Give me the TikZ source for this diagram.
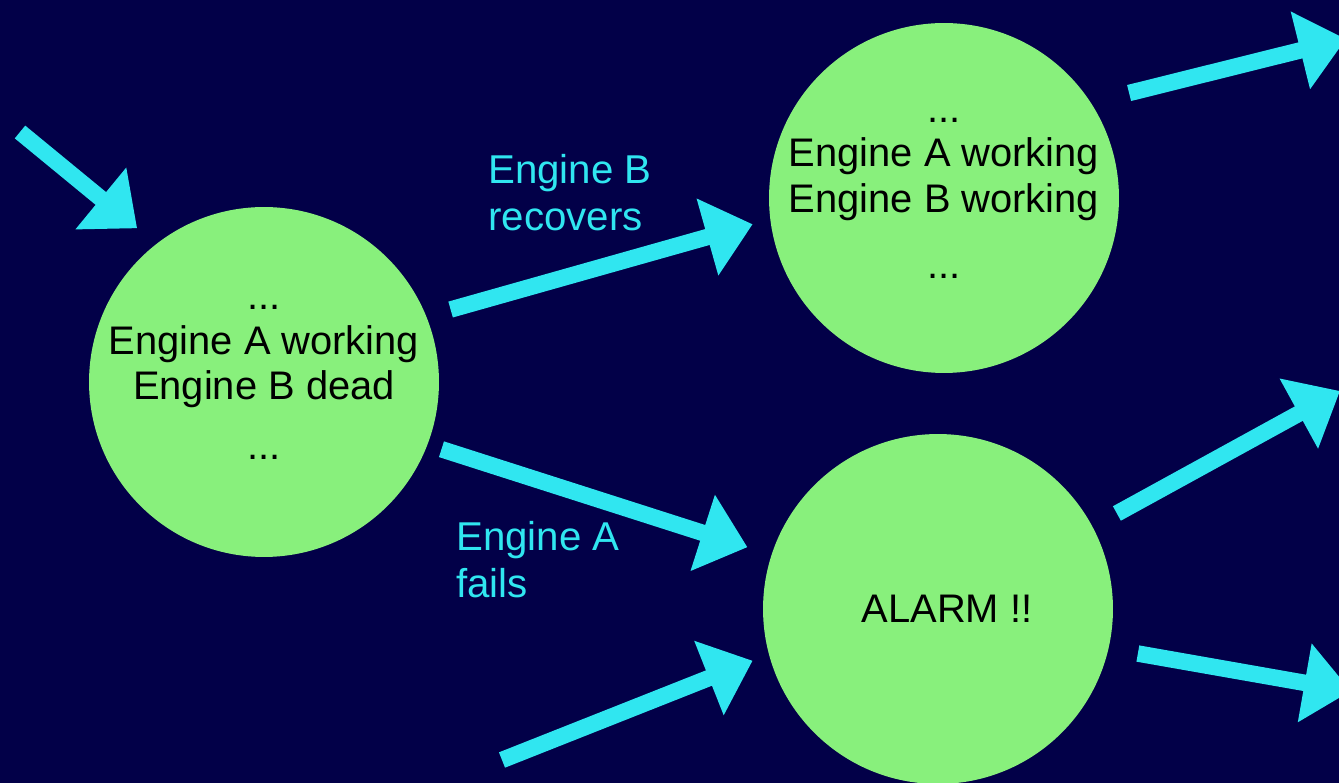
\documentclass[tikz,border=0pt]{standalone}
\usepackage{fontspec}
\setmainfont{Liberation Sans}
\usetikzlibrary{arrows.meta, positioning}

\definecolor{navy}{RGB}{2,0,72}
\definecolor{stategreen}{RGB}{136,240,124}
\definecolor{flowcyan}{RGB}{48,230,240}

\begin{document}
\begin{tikzpicture}[
    x=0.02cm, y=-0.02cm,
    state/.style={circle, fill=stategreen, minimum size=7cm, inner sep=0pt, align=center, text=black, font=\fontsize{22.7}{26}\selectfont},
    arrow/.style={flowcyan, line width=0.33cm, -{Triangle[width=1.54cm, length=0.94cm]}},
    tag/.style={text=flowcyan, align=left, inner sep=0pt, anchor=north west, font=\fontsize{22.9}{26.5}\selectfont}
]
\useasboundingbox (0,0) rectangle (1339,783);
\fill [navy] (0,0) rectangle (1339,783);
\clip (0,0) rectangle (1339,783);

\node [state] (dead) at (264,382) {...\\[-0.3pt] Engine A working\\ Engine B dead\\[7.7pt] ...};
\node [state] (ok) at (944,198) {...\\[-0.6pt] Engine A working\\ Engine B working\\[11.4pt] ...};
\node [state] (alarm) at (938,609) {\hspace*{0.36cm}ALARM !!};

\node [tag] (recover) at (488,154) {Engine B\\recovers};
\node [tag] (fail) at (456,521) {Engine A\\fails};

\coordinate (start) at (20,132);
\coordinate (spare) at (502,760);
\coordinate (okout) at (1346,39);
\coordinate (alarmup) at (1340,391);
\coordinate (alarmdown) at (1351,691);

\draw [arrow, shorten >=0.49cm] (start) -- (dead.128);
\draw [arrow, shorten <=0.5cm, shorten >=0.36cm] (dead.22) -- (ok.187);
\draw [arrow, shorten <=0.29cm, shorten >=0.5cm] (dead.-21) -- (alarm.162);
\draw [arrow, shorten >=0.345cm] (spare) -- (alarm.195);
\draw [arrow, shorten <=0.785cm] (ok.33.5) -- (okout);
\draw [arrow, shorten <=0.55cm] (alarm.28) -- (alarmup);
\draw [arrow, shorten <=0.59cm] (alarm.-13.6) -- (alarmdown);
\end{tikzpicture}
\end{document}
